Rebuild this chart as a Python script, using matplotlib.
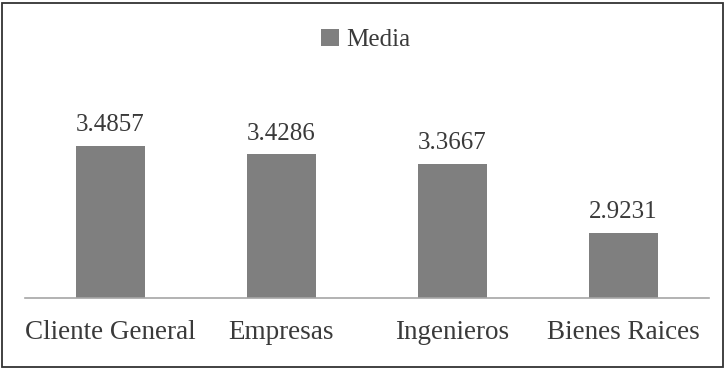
import matplotlib
matplotlib.use("Agg")
import matplotlib.pyplot as plt
from matplotlib.patches import Rectangle

categories = ["Cliente General", "Empresas", "Ingenieros", "Bienes Raices"]
media = [3.4857, 3.4286, 3.3667, 2.9231]
value_labels = ["3.4857", "3.4286", "3.3667", "2.9231"]
series_name = "Media"

plt.rcParams['font.serif'] = ['Liberation Serif', 'DejaVu Serif']
plt.rcParams['font.family'] = 'serif'

W, H = 726, 370
fig = plt.figure(figsize=(W / 100, H / 100), dpi=100)

bar_color = "#7f7f7f"
text_color = "#3a3a3a"

# axes: baseline y=298 px, x from 25 to 709 px, top y=60
left, right, base, top = 25, 709, 298, 60
ax = fig.add_axes([left / W, (H - base) / H, (right - left) / W, (base - top) / H])
ymin = 2.5
scale = 154.6  # px per unit
ax.set_ylim(ymin, ymin + (base - top) / scale)
x = list(range(len(categories)))
ax.bar(x, media, width=0.4, color=bar_color, label=series_name)
ax.set_xlim(-0.5, len(categories) - 0.5)

for xi, v, lab in zip(x, media, value_labels):
    ax.annotate(lab, (xi, v), xytext=(0, 7), textcoords="offset points",
                ha="center", va="bottom", fontsize=18, color=text_color)

for s in ["top", "right", "left"]:
    ax.spines[s].set_visible(False)
ax.spines["bottom"].set_color("#a6a6a6")
ax.spines["bottom"].set_linewidth(1.2)
ax.set_yticks([])
ax.set_xticks(x)
ax.set_xticklabels(categories, fontsize=19.5, color=text_color)
ax.tick_params(axis="x", length=0, pad=16)

leg = fig.legend(loc="center", bbox_to_anchor=(366 / W, 1 - 40 / H), frameon=False,
                 fontsize=18, handlelength=0.7, handleheight=0.7, handletextpad=0.3,
                 labelcolor=text_color)

fig.patches.append(Rectangle((1.5 / W, 3 / H), (723 - 1.5) / W, (367 - 3) / H,
                             transform=fig.transFigure, fill=False,
                             edgecolor="#333333", linewidth=1.3))

fig.savefig("out.png", dpi=100)
